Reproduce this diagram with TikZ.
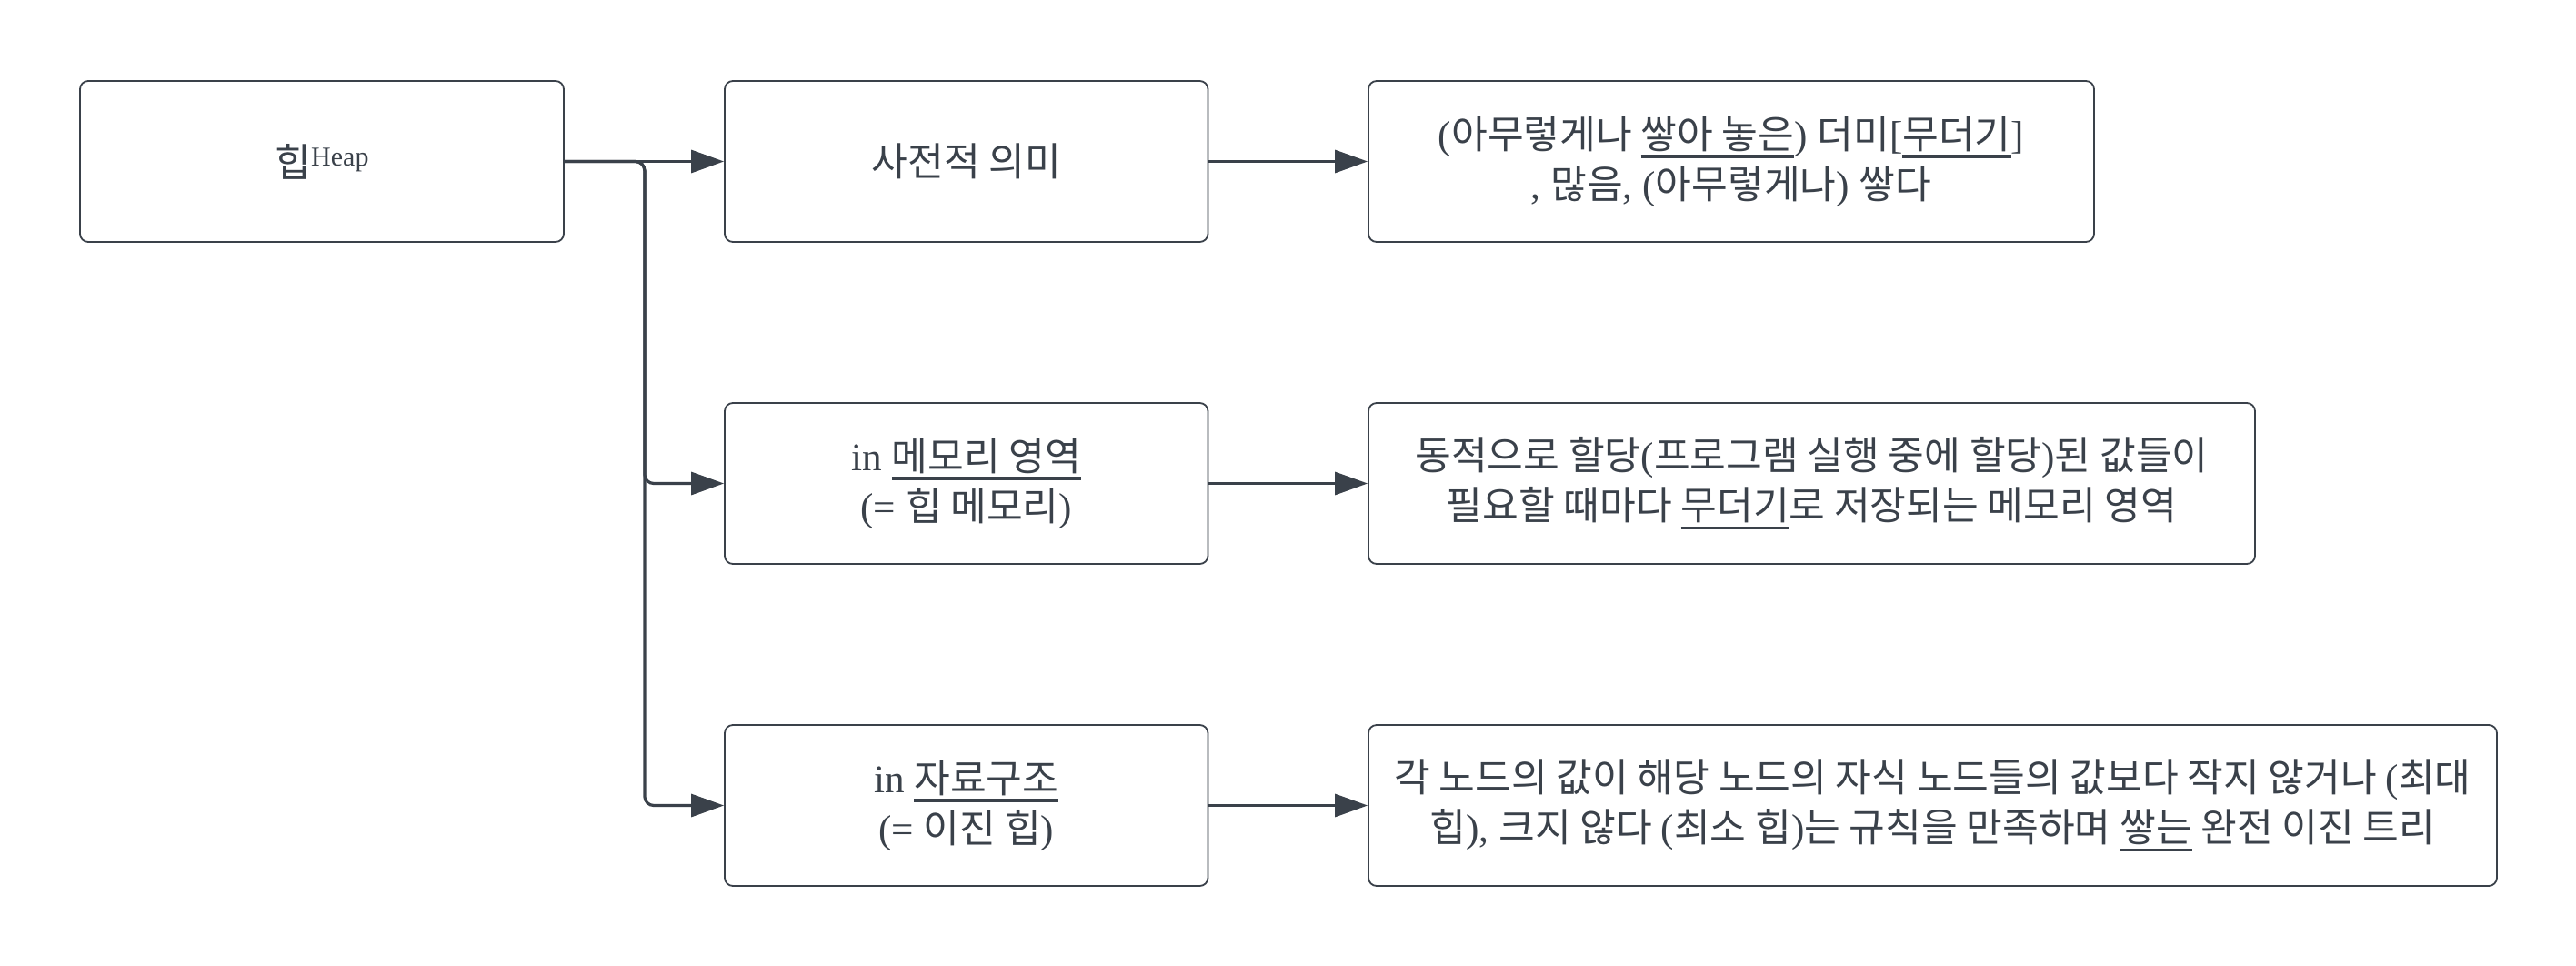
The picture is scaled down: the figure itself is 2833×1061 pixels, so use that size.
\documentclass[tikz,border=0pt]{standalone}
\usepackage{fontspec}
\setmainfont{Liberation Serif}
\newfontfamily\krf{Noto Sans CJK KR}
\usetikzlibrary{arrows.meta}
\definecolor{lc}{HTML}{3A414A}
\newcommand\K[1]{{\krf #1}}
\newcommand\myul[1]{\leavevmode\setbox0=\hbox{#1}\rlap{\raisebox{-5.2pt}{\rule{\wd0}{1.7pt}}}\box0}
\begin{document}
\begin{tikzpicture}[x=0.5pt,y=-0.5pt,
  box/.style={draw=lc, line width=0.9pt, rounded corners=4.5pt, minimum height=88.5pt,
    inner sep=0pt, align=center, text=lc, font=\fontsize{21.6}{27.5}\selectfont},
  conn/.style={draw=lc, line width=1.6pt, -{Triangle[length=18pt,width=12.5pt]}}]
\useasboundingbox (0,0) rectangle (2833,1061);
\node[box, minimum width=266pt] (A) at (354,177.5) {\K{힙}\raisebox{6pt}{\fontsize{15}{17}\selectfont Heap}};
\node[box, minimum width=265.75pt] (B1) at (1062.75,177.5) {\K{사전적 의미}};
\node[box, minimum width=265.75pt] (B2) at (1062.75,531.5) {in \myul{\K{메모리 영역}}\\(= \K{힙 메모리})};
\node[box, minimum width=265.75pt] (B3) at (1062.75,885.5) {in \myul{\K{자료구조}}\\(= \K{이진 힙})};
\node[box, minimum width=399pt] (C1) at (1904,177.5) {(\K{아무렇게나 }\myul{\K{쌓아 놓은}}) \K{더미}[\myul{\K{무더기}}]\\, \K{많음}, (\K{아무렇게나}) \K{쌓다}};
\node[box, minimum width=487.5pt] (C2) at (1992.5,531.5) {\K{동적으로 할당}(\K{프로그램 실행 중에 할당})\K{된 값들이}\\\K{필요할 때마다 }\myul{\K{무더기}}\K{로 저장되는 메모리 영역}};
\node[box, minimum width=620.5pt] (C3) at (2125.5,885.5) {\K{각 노드의 값이 해당 노드의 자식 노드들의 값보다 작지 않거나 }(\K{최대}\\\K{힙}), \K{크지 않다 }(\K{최소 힙})\K{는 규칙을 만족하며 }\myul{\K{쌓는}}\K{ 완전 이진 트리}};
\draw[conn] (A.east) -- (B1.west);
\draw[conn, rounded corners=5pt] (A.east) -- ++(88,0) |- (B2.west);
\draw[conn, rounded corners=5pt] (A.east) -- ++(88,0) |- (B3.west);
\draw[conn] (B1.east) -- (C1.west);
\draw[conn] (B2.east) -- (C2.west);
\draw[conn] (B3.east) -- (C3.west);
\end{tikzpicture}
\end{document}
